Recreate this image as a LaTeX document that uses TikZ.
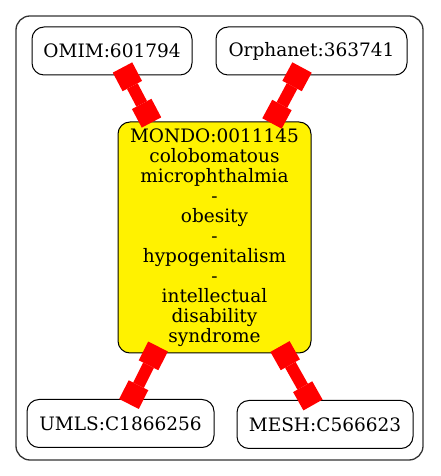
\documentclass[tikz,border=0pt]{standalone}
\usepackage{fontspec}
\setmainfont{DejaVu Serif}
\usetikzlibrary{arrows.meta,calc}
\begin{document}
\begin{tikzpicture}[x=1pt, y=1pt,
	idbox/.style = {draw, line width=1pt, rounded corners=12pt, minimum height=48pt, inner sep=0pt, font=\fontsize{18.5}{20}\selectfont},
	link/.style = {red, line width=12pt, {Square[length=21pt,width=22pt,line width=0pt]}-{Square[length=21pt,width=22pt,line width=0pt]}}]
\useasboundingbox (0,0) rectangle (440,476);
\draw[line width=1.3pt, black!80, rounded corners=14pt] (16,16) rectangle (423,460);
\node[idbox, minimum width=160pt] (omim) at (112,425) {OMIM:601794};
\node[idbox, minimum width=191pt] (orpha) at (311.5,425) {Orphanet:363741};
\node[idbox, minimum width=193pt, minimum height=231pt, fill=yellow, align=center] (mondo) at (214.5,238.5)
	{MONDO:0011145\\colobomatous\\microphthalmia\\-\\obesity\\-\\hypogenitalism\\-\\intellectual\\disability\\syndrome};
\node[idbox, minimum width=187pt] (umls) at (120.5,52.5) {UMLS:C1866256};
\node[idbox, minimum width=176pt] (mesh) at (325,51.5) {MESH:C566623};
% edges
\draw[link] ($(omim.south)+(10.5,8)$) -- ($(mondo.north)+(-63,-1)$);
\draw[link] ($(orpha.south)+(-9.5,8)$) -- ($(mondo.north)+(57.5,-2)$);
\draw[link] ($(mondo.south)+(-56.5,7)$) -- ($(umls.north)+(8.5,-5)$);
\draw[link] ($(mondo.south)+(65.5,7)$) -- ($(mesh.north)+(-12,-5)$);
\end{tikzpicture}
\end{document}
